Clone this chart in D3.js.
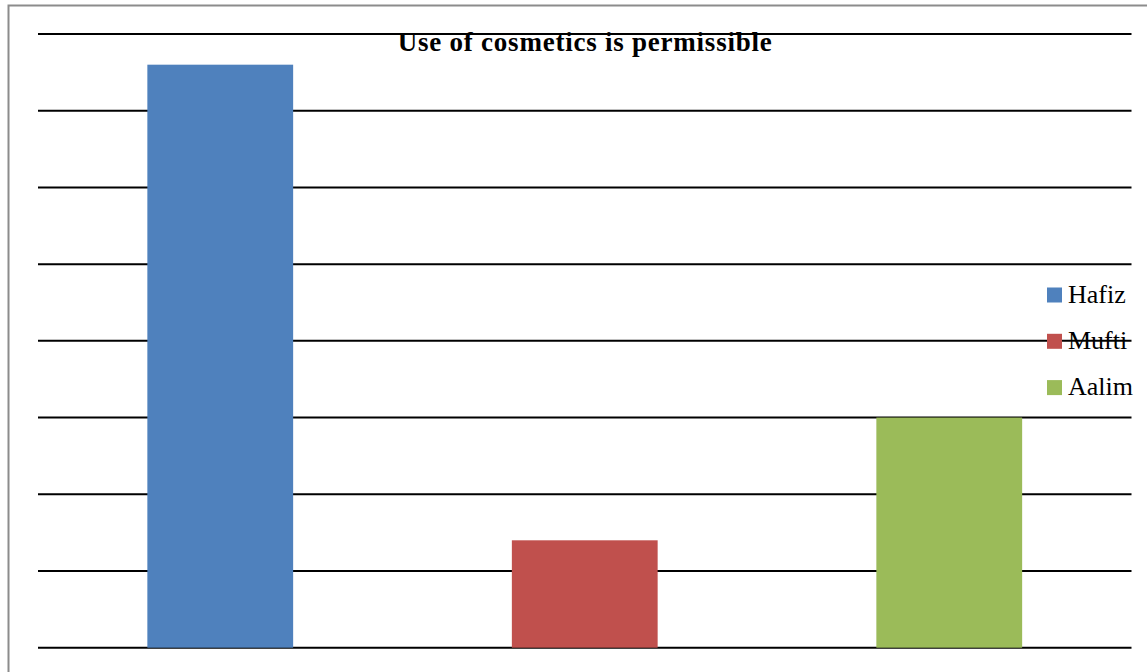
<!DOCTYPE html>
<html>
<head>
<meta charset="utf-8">
<script src="https://cdn.jsdelivr.net/npm/d3@7"></script>
<style>
  body { margin: 0; background: #fff; }
  svg { display: block; }
</style>
</head>
<body>
<div id="chart"></div>
<script>
var categories = ["Hafiz", "Mufti", "Aalim"];
var values = [38, 7, 15];
var yTicks = [0, 5, 10, 15, 20, 25, 30, 35, 40];
var colors = ["#4F81BD", "#C0504D", "#9BBB59"];
var title = "Use of cosmetics is permissible";

var W = 1147, H = 672;
var plot = {left: 38, right: 1131.5, top: 34, bottom: 647.7};

var svg = d3.select("#chart").append("svg")
    .attr("width", W)
    .attr("height", H);

// outer frame (only top/left visible in the crop)
svg.append("rect")
    .attr("x", 8.5).attr("y", 5.5)
    .attr("width", W + 20).attr("height", H + 20)
    .attr("fill", "#fff")
    .attr("stroke", "#8c8c8c")
    .attr("stroke-width", 2);

var x = d3.scaleBand()
    .domain(categories)
    .range([plot.left, plot.right])
    .paddingInner(0.6)
    .paddingOuter(0.3);

var y = d3.scaleLinear()
    .domain([0, 40])
    .range([plot.bottom, plot.top]);

// gridlines
svg.append("g")
  .selectAll("line")
  .data(yTicks)
  .enter().append("line")
    .attr("x1", plot.left)
    .attr("x2", plot.right)
    .attr("y1", function(d) { return y(d); })
    .attr("y2", function(d) { return y(d); })
    .attr("stroke", "#000")
    .attr("stroke-width", 2);

// bars
svg.selectAll(".bar")
    .data(values)
    .enter().append("rect")
    .attr("class", "bar")
    .attr("x", function(d, i) { return x(categories[i]); })
    .attr("width", x.bandwidth())
    .attr("y", function(d) { return y(d); })
    .attr("height", function(d) { return y(0) - y(d); })
    .attr("fill", function(d, i) { return colors[i]; });

// title
svg.append("text")
    .attr("x", (plot.left + plot.right) / 2)
    .attr("y", 51)
    .attr("text-anchor", "middle")
    .attr("textLength", 374)
    .attr("lengthAdjust", "spacing")
    .style("font-family", "'Liberation Serif', serif")
    .style("font-weight", "bold")
    .style("font-size", "27px")
    .text(title);

// legend
var legend = svg.append("g")
  .selectAll("g")
  .data(categories)
  .enter().append("g")
    .attr("transform", function(d, i) { return "translate(1047," + (287.5 + i * 46.3) + ")"; });

legend.append("rect")
    .attr("width", 15)
    .attr("height", 15)
    .attr("fill", function(d, i) { return colors[i]; });

legend.append("text")
    .attr("x", 21)
    .attr("y", 15)
    .style("font-family", "'Liberation Serif', serif")
    .style("font-size", "26px")
    .text(function(d) { return d; });
</script>
</body>
</html>
